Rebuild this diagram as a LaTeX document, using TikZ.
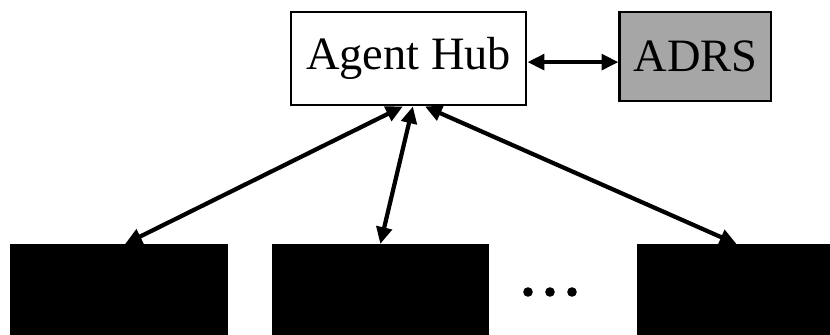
\documentclass[tikz,border=0pt]{standalone}
\usepackage{fontspec}
\setmainfont{Liberation Serif}
\usetikzlibrary{positioning, arrows.meta}

\begin{document}
\begin{tikzpicture}[x=0.025cm, y=-0.025cm, >={Triangle[length=12pt, width=11pt]}, line width=3pt,
    box/.style={draw, line width=2pt, inner sep=0pt, font=\fontsize{33}{38}\selectfont},
    agent/.style={draw=black, fill=black, inner sep=0pt, minimum height=3cm}]
            \useasboundingbox (0,0) rectangle (830,335);
            \clip (0,0) rectangle (830,335);

            \node[box, minimum width=5.875cm, minimum height=2.325cm] (hub) at (408.5,58.5) {Agent Hub};
            \node[box, fill=black!35, minimum width=3.775cm, minimum height=2.225cm]
              (adrs) [right = 2.275cm of hub.north east, anchor=north west] {ADRS};

            \node[agent, minimum width=5.35cm, anchor=north west] (a1) at (10,244) {};
            \node[agent, minimum width=5.3cm] (a2) [right = 1.1cm of a1.north east, anchor=north west] {};
            \node[agent, minimum width=5.3cm] (a3) [right = 3.7cm of a2.north east, anchor=north west] {};

            \foreach \x in {528, 550, 572}
              \fill (\x,292) circle (0.12cm);

            \draw[<->] ([yshift=-0.09cm]hub.east) -- ([yshift=-0.09cm]hub.east -| adrs.west);
            \draw[<->] ([xshift=-0.14cm]hub.south) -- ([xshift=2.875cm]a1.north west);
            \draw[<->] ([xshift=0.11cm]hub.south) -- ([xshift=2.7cm]a2.north west);
            \draw[<->] ([xshift=0.41cm]hub.south) -- ([xshift=2.5cm]a3.north west);
          \end{tikzpicture}
\end{document}
